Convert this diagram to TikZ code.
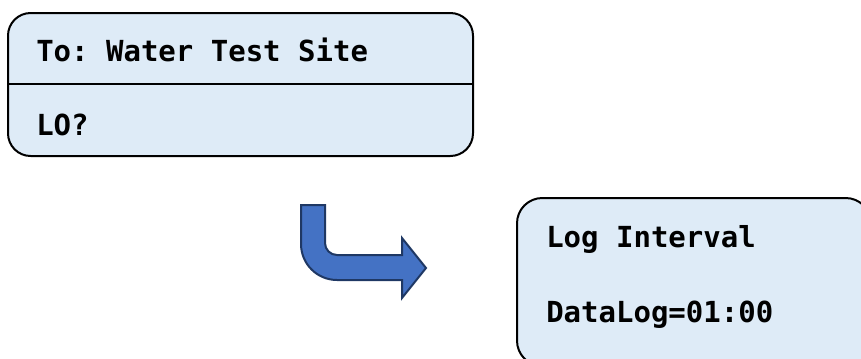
\documentclass[tikz,border=0pt]{standalone}
\usepackage{fontspec}
\setmonofont{DejaVu Sans Mono}
\usepackage{tikz}
\usetikzlibrary{shapes,arrows.meta,positioning}
\definecolor{panelfill}{HTML}{DEEBF7}
\definecolor{arrowfill}{HTML}{4472C4}
\definecolor{arrowline}{HTML}{1F3864}
\tikzstyle{panel} = [rectangle, draw, line width=1.5pt, fill=panelfill,
    rounded corners=17pt, anchor=north west]
\tikzstyle{lcdtext} = [anchor=base west, inner sep=0pt,
    font=\ttfamily\bfseries\fontsize{21.75}{26}\selectfont]
\tikzstyle{bentarrow} = [draw=arrowline, fill=arrowfill, line width=1.5pt, line join=miter]

\begin{document}
\begin{tikzpicture}[x=0.75pt, y=-0.75pt]
   \useasboundingbox (0,0) rectangle (861,358);
   \clip (0,0) rectangle (861,358);
   % Place panels
    \node [panel, minimum width=348.75pt, minimum height=107.25pt] (menu) at (7,12) {};
    \node [panel, minimum width=265.5pt, minimum height=126pt, rounded corners=19pt] (interval) at (516,197) {};
    \draw [line width=1.2pt] (menu.west |- 0,84) -- (menu.east |- 0,84);
   % Place texts
    \node [lcdtext] (site) at (36,61) {To: Water Test Site};
    \node [lcdtext] (lo) at (36,135) {LO?};
    \node [lcdtext] (title) at (546,247) {Log Interval};
    \node [lcdtext] (datalog) at (546,322) {DataLog=01:00};
   % Draw bent arrow
    \path [bentarrow] (301,205) -- (325,205) -- (325,243) arc[start angle=180, end angle=90, radius=12]
      -- (402,255) -- (402,238) -- (426,268) -- (402,298) -- (402,280) -- (337,280)
      arc[start angle=90, end angle=180, radius=36] -- cycle;
\end{tikzpicture}
\end{document}
